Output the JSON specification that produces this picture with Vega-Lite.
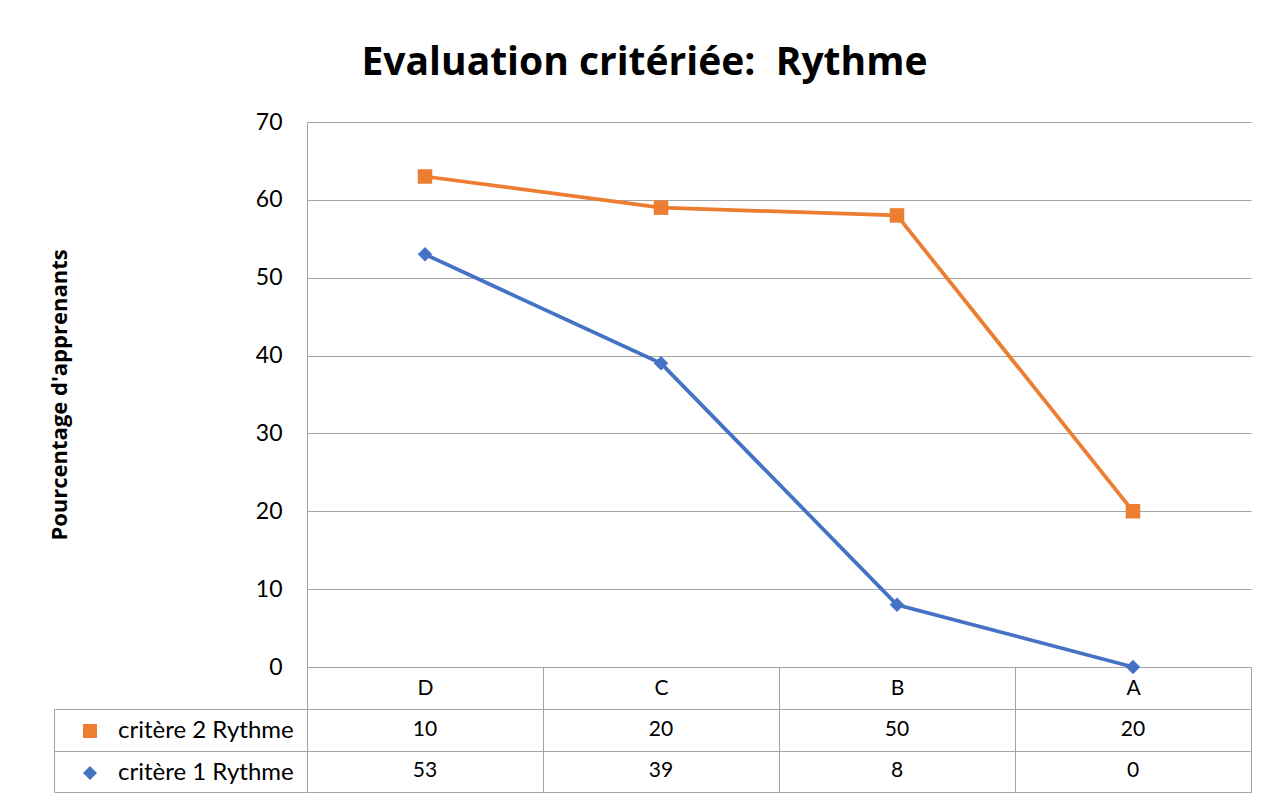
{
  "$schema": "https://vega.github.io/schema/vega-lite/v6.json",
  "autosize": {"type": "none"},
  "width": 1197,
  "height": 670,
  "padding": {"left": 54, "top": 122, "right": 19, "bottom": 6},
  "background": "white",
  "title": {
    "text": "Evaluation critériée:\u00a0 Rythme",
    "font": "Open Sans",
    "fontSize": 39,
    "fontWeight": "bold",
    "color": "#000000",
    "anchor": "middle",
    "dx": -8,
    "offset": 28
  },
  "data": {
    "values": [
      {"cat": "D", "serie": "critère 2 Rythme", "value": 10},
      {"cat": "C", "serie": "critère 2 Rythme", "value": 20},
      {"cat": "B", "serie": "critère 2 Rythme", "value": 50},
      {"cat": "A", "serie": "critère 2 Rythme", "value": 20},
      {"cat": "D", "serie": "critère 1 Rythme", "value": 53},
      {"cat": "C", "serie": "critère 1 Rythme", "value": 39},
      {"cat": "B", "serie": "critère 1 Rythme", "value": 8},
      {"cat": "A", "serie": "critère 1 Rythme", "value": 0}
    ]
  },
  "transform": [
    {"stack": "value", "groupby": ["cat"], "sort": [{"field": "serie", "order": "ascending"}], "as": ["v0", "v1"]}
  ],
  "encoding": {
    "x": {
      "field": "cat",
      "type": "nominal",
      "sort": ["D", "C", "B", "A"],
      "scale": {"type": "band", "domain": ["D", "C", "B", "A"], "range": [253, 1197], "paddingInner": 0, "paddingOuter": 0},
      "axis": {
        "title": null,
        "orient": "bottom",
        "offset": -125,
        "domain": false,
        "grid": false,
        "ticks": true,
        "tickBand": "extent",
        "tickSize": 125,
        "tickColor": "#A5A5A5",
        "tickWidth": 1,
        "labelFontSize": 21,
        "labelColor": "#000000",
        "labelPadding": -115,
        "labelAngle": 0
      }
    }
  },
  "layer": [
    {
      "encoding": {
        "y": {
          "field": "v1",
          "type": "quantitative",
          "scale": {"domain": [0, 70], "range": [545, 0], "nice": false, "zero": true},
          "axis": {
            "orient": "left",
            "offset": -253,
            "values": [0, 10, 20, 30, 40, 50, 60, 70],
            "grid": true,
            "gridColor": "#A5A5A5",
            "gridWidth": 1,
            "domain": true,
            "domainColor": "#A5A5A5",
            "domainWidth": 1,
            "ticks": false,
            "labelPadding": 25,
            "labelFontSize": 23,
            "labelColor": "#000000",
            "title": "Pourcentage d'apprenants",
            "titleFont": "Open Sans",
            "titleFontSize": 22,
            "titleFontWeight": "bold",
            "titleColor": "#000000",
            "titlePadding": 184
          }
        }
      },
      "layer": [
        {
          "mark": {"type": "line", "strokeWidth": 3.75},
          "encoding": {
            "stroke": {
              "field": "serie",
              "type": "nominal",
              "scale": {"domain": ["critère 2 Rythme", "critère 1 Rythme"], "range": ["#ED7D31", "#4472C4"]},
              "legend": {
                "orient": "none",
                "legendX": 24,
                "legendY": 597,
                "title": null
              }
            }
          }
        },
        {
          "mark": {"type": "point", "filled": true, "opacity": 1, "strokeWidth": 0, "size": 210},
          "encoding": {
            "color": {
              "field": "serie",
              "type": "nominal",
              "scale": {"domain": ["critère 2 Rythme", "critère 1 Rythme"], "range": ["#ED7D31", "#4472C4"]},
              "legend": {
                "orient": "none",
                "legendX": 24,
                "legendY": 597,
                "title": null
              }
            },
            "shape": {
              "field": "serie",
              "type": "nominal",
              "scale": {"domain": ["critère 2 Rythme", "critère 1 Rythme"], "range": ["square", "diamond"]},
              "legend": {
                "orient": "none",
                "legendX": 24,
                "legendY": 597,
                "title": null
              }
            }
          }
        }
      ]
    },
    {
      "mark": {"type": "text", "fontSize": 21, "align": "center", "baseline": "middle", "color": "#000000"},
      "encoding": {
        "y": {
          "field": "serie",
          "type": "nominal",
          "scale": {"type": "band", "domain": ["critère 2 Rythme", "critère 1 Rythme"], "range": [587, 670], "paddingInner": 0, "paddingOuter": 0},
          "axis": {
            "orient": "left",
            "offset": 0,
            "title": null,
            "labels": false,
            "domain": true,
            "domainColor": "#A5A5A5",
            "ticks": true,
            "tickBand": "extent",
            "tickSize": -253,
            "tickColor": "#A5A5A5",
            "grid": true,
            "gridColor": "#A5A5A5",
            "gridWidth": 1
          }
        },
        "text": {"field": "value", "type": "quantitative"}
      }
    }
  ],
  "resolve": {"scale": {"y": "independent"}, "axis": {"y": "independent"}},
  "config": {
    "font": "Lato",
    "view": {"stroke": null},
    "legend": {
      "padding": 0,
      "direction": "vertical",
      "labelFont": "Lato",
      "labelFontSize": 24,
      "labelColor": "#000000",
      "labelOffset": 16,
      "labelLimit": 400,
      "rowPadding": 18,
      "symbolSize": 196,
      "symbolOpacity": 1,
      "symbolStrokeWidth": 0
    }
  }
}
